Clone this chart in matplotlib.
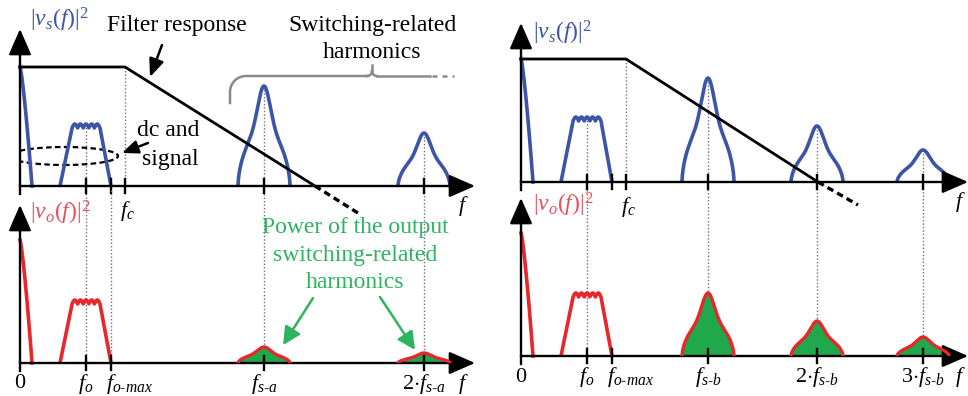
import numpy as np
import matplotlib
matplotlib.use("Agg")
from matplotlib import pyplot as plt
from matplotlib.patches import Ellipse

plt.rcParams['font.family'] = ['Liberation Serif', 'DejaVu Serif']
plt.rcParams['mathtext.fontset'] = 'custom'
plt.rcParams['mathtext.rm'] = 'Liberation Serif'
plt.rcParams['mathtext.it'] = 'Liberation Serif:italic'

# Spectrum data (frequency / amplitude in panel units, origin at axis crossing)
F_O = 66
F_OMAX = 91
F_C = 105
SIG_BAND = [40, 52, 80, 91]          # band edges: base start, top start, top end, base end
DC_WIDTH = 12

# case a (left): filter response and harmonics
FILT_A_X = [0, 105, 295]
FILT_A_Y = [119, 119, 0]
FILT_A_EXT = [338, -27]
HARM_A_POS = [244, 404]
HARM_A_LBL = [r'$f_{s\text{-}a}$', r'$\mathit{2}{\cdot}f_{s\text{-}a}$']
HARM_A_IN = [100, 53]
HARM_A_OUT = [16, 10]
DC_A = [119, 123]        # input, output
SIG_A = [62, 63]

# case b (right)
FILT_B_X = [0, 105, 297]
FILT_B_Y = [123, 123, 0]
FILT_B_EXT = [337, -23]
HARM_B_POS = [187, 296, 402]
HARM_B_LBL = [r'$f_{s\text{-}b}$', r'$\mathit{2}{\cdot}f_{s\text{-}b}$', r'$\mathit{3}{\cdot}f_{s\text{-}b}$']
HARM_B_IN = [104, 56, 32]
HARM_B_OUT = [63, 35, 19]
DC_B = [123, 123]
SIG_B = [65, 63]

BLUE = '#3d55a6'
RED = '#e8262c'
LRED = '#e8505e'
GREEN = '#1fa84c'
GTXT = '#2fb35f'
GRAY = '#8a8a8a'
DOT = '#707070'

W, H = 968, 396
fig = plt.figure(figsize=(W / 100, H / 100), dpi=100)


def panel(ox, oy, w, h):
    ax = fig.add_axes([ox / W, 1 - oy / H, w / W, h / H])
    ax.set_xlim(0, w)
    ax.set_ylim(0, h)
    ax.axis('off')
    ar = dict(arrowstyle='-|>,head_length=0.8,head_width=0.35', lw=1.7,
              color='black', mutation_scale=20, shrinkA=0, shrinkB=0)
    ax.annotate('', xy=(w, 0), xytext=(0, 0), arrowprops=ar, annotation_clip=False)
    ax.annotate('', xy=(0, h), xytext=(0, 0), arrowprops=ar, annotation_clip=False)
    ax.plot([0, 0], [0, -8], color='black', lw=1.7, clip_on=False)
    return ax


def peak(center, amp, hw=26):
    u = np.linspace(-1, 1, 301)
    y = amp * (0.45 * np.exp(-(u / 0.33) ** 2) + 0.55 * np.clip(1 - u ** 2, 0, None) ** 0.6)
    return center + u * hw, y


def dc_spike(amp):
    x = np.linspace(0, DC_WIDTH, 50)
    return x, amp * (1 - (x / DC_WIDTH) ** 1.3)


def band(amp):
    x0, x1, x2, x3 = SIG_BAND
    t = np.linspace(0, 1, 200)
    xt = x1 + t * (x2 - x1)
    yt = amp - 4 + 4 * np.abs(np.sin(np.pi * 5 * t))
    return np.concatenate([[x0], xt, [x3]]), np.concatenate([[0], yt, [0]])


def ticks(ax, xs):
    for x in xs:
        ax.plot([x, x], [-7, 7], color='black', lw=1.7, clip_on=False)


def dotted(ax, x, y0, y1):
    ax.plot([x, x], [y0, y1], color=DOT, lw=1, ls=(0, (1, 1.5)), clip_on=False, zorder=1)


def draw_case(top, bot, gap, filt_x, filt_y, ext, pos, lbls, hin, hout, dc, sig, fomax_line):
    # input spectrum
    x, y = dc_spike(dc[0]); top.plot(x, y, color=BLUE, lw=2.6, clip_on=False)
    x, y = band(sig[0]); top.plot(x, y, color=BLUE, lw=2.6)
    for p, a in zip(pos, hin):
        x, y = peak(p, a)
        top.plot(x, y, color=BLUE, lw=2.6)
        dotted(top, p, a, -gap)
    top.plot(filt_x, filt_y, color='black', lw=2.0, zorder=5, clip_on=False)
    top.plot([filt_x[-1], ext[0]], [0, ext[1]], color='black', lw=2.4,
             ls=(0, (2, 1.3)), zorder=5, clip_on=False)
    dotted(top, F_C, filt_y[1], 0)
    dotted(top, F_O, sig[0], -gap)
    ticks(top, [F_O, F_OMAX, F_C] + pos)

    # output spectrum
    x, y = dc_spike(dc[1]); bot.plot(x, y, color=RED, lw=2.6, clip_on=False)
    x, y = band(sig[1]); bot.plot(x, y, color=RED, lw=2.6)
    for p, a in zip(pos, hout):
        x, y = peak(p, a)
        bot.fill_between(x, 0, y, color=GREEN, lw=0, zorder=2)
        bot.plot(x, y, color=RED, lw=2.4, zorder=3)
    if fomax_line:
        dotted(bot, F_OMAX, gap - 4, 0)
    ticks(bot, [F_O, F_OMAX] + pos)

    # tick labels
    lab = dict(fontsize=16, ha='center', va='center')
    bot.text(0, -21, r'$\mathit{0}$', **lab)
    bot.text(F_O, -21, r'$f_o$', **lab)
    bot.text(F_OMAX - 5, -21, r'$f_{o\text{-}max}$', fontsize=16, ha='left', va='center')
    for p, s in zip(pos, lbls):
        bot.text(p, -21, s, **lab)
    w = bot.get_xlim()[1]
    fx = w - 12 if fomax_line else w - 8
    bot.text(fx, -21, r'$f$', **lab)
    top.text(fx, -20, r'$f$', **lab)
    top.text(F_C + 2, -25, r'$f_c$', **lab)


# left case
lt = panel(20, 186, 455, 157)
lb = panel(20, 363, 455, 158)
draw_case(lt, lb, 177, FILT_A_X, FILT_A_Y, FILT_A_EXT, HARM_A_POS, HARM_A_LBL,
          HARM_A_IN, HARM_A_OUT, DC_A, SIG_A, True)

# right case
rt = panel(521, 182, 447, 159)
rb = panel(521, 356, 447, 158)
draw_case(rt, rb, 174, FILT_B_X, FILT_B_Y, FILT_B_EXT, HARM_B_POS, HARM_B_LBL,
          HARM_B_IN, HARM_B_OUT, DC_B, SIG_B, False)

# axis titles
lt.text(10, 166, r'$|v_s(f)|^2$', color=BLUE, fontsize=17, va='center', clip_on=False)
lb.text(10, 150, r'$|v_o(f)|^2$', color=LRED, fontsize=17, va='center', clip_on=False)
rt.text(12, 149, r'$|v_s(f)|^2$', color=BLUE, fontsize=17, va='center', clip_on=False)
rb.text(12, 151, r'$|v_o(f)|^2$', color=LRED, fontsize=17, va='center', clip_on=False)

# annotations (left case)
lt.text(157, 161, 'Filter response', fontsize=17, ha='center', va='center')
lt.annotate('', xy=(130, 109), xytext=(142, 141),
            arrowprops=dict(arrowstyle='-|>,head_length=0.6,head_width=0.25', lw=1.8,
                            color='black', mutation_scale=18, shrinkA=0, shrinkB=0))
lt.text(352, 161, 'Switching-related', fontsize=17, ha='center', va='center')
lt.text(352, 134, 'harmonics', fontsize=17, ha='center', va='center')

# brace
r = 16
ang = np.linspace(np.pi, np.pi / 2, 30)
bx = np.concatenate([[210], 210 + r + r * np.cos(ang), [347]])
by = np.concatenate([[83], 110 - r + r * np.sin(ang), [110]])
lt.plot(bx, by, color=GRAY, lw=1.8)
ang2 = np.linspace(-np.pi / 2, 0, 15)
lt.plot(347 + 5 * np.cos(ang2), 115 + 5 * np.sin(ang2), color=GRAY, lw=1.8)
lt.plot([352, 352], [115, 121], color=GRAY, lw=1.8)
ang3 = np.linspace(np.pi, 3 * np.pi / 2, 15)
lt.plot(357 + 5 * np.cos(ang3), 115 + 5 * np.sin(ang3), color=GRAY, lw=1.8)
lt.plot([357, 410], [110, 110], color=GRAY, lw=1.8)
lt.plot([412, 434], [110, 110], color=GRAY, lw=1.8, ls=(0, (2, 2)))

# dc and signal ellipse
lt.add_patch(Ellipse((44, 30), 108, 18, fill=False, ec='black', lw=1.6, ls=(0, (2.5, 1.5))))
lt.text(148, 56, 'dc and', fontsize=17, ha='center', va='center')
lt.text(150, 26, 'signal', fontsize=17, ha='center', va='center')
lt.annotate('', xy=(102, 33), xytext=(128, 43),
            arrowprops=dict(arrowstyle='-|>,head_length=0.6,head_width=0.25', lw=1.8,
                            color='black', mutation_scale=16, shrinkA=0, shrinkB=0))

# output harmonics text
for txt, yy in zip(['Power of the output', 'switching-related', 'harmonics'], [135, 108, 80]):
    lb.text(335, yy, txt, fontsize=17, color=GTXT, ha='center', va='center')
garr = dict(arrowstyle='-|>,head_length=0.6,head_width=0.3', lw=1.8,
            color=GTXT, mutation_scale=18, shrinkA=0, shrinkB=0)
lb.annotate('', xy=(263, 18), xytext=(293, 65), arrowprops=garr)
lb.annotate('', xy=(395, 13), xytext=(360, 66), arrowprops=garr)

fig.savefig('out.png', dpi=100)
